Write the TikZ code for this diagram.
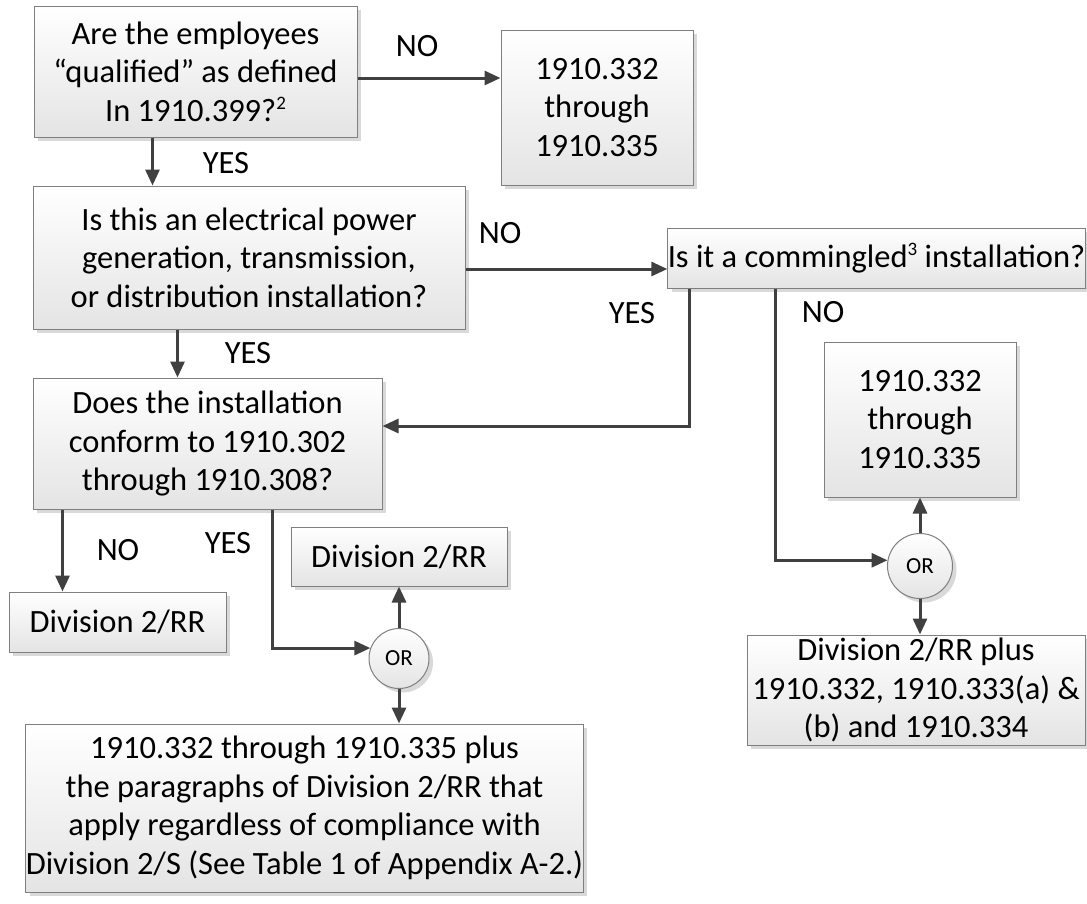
\documentclass[tikz,border=0pt]{standalone}
\usepackage{fontspec}
\setmainfont{Carlito}
\usetikzlibrary{arrows.meta,shadows}

\definecolor{linegray}{HTML}{404040}
\definecolor{boxedge}{HTML}{7F7F7F}
\definecolor{boxshade}{HTML}{E4E4E4}
\definecolor{shadowgray}{HTML}{D9D9D9}

\newcommand{\fnmark}[1]{\raisebox{0.75ex}{\fontsize{19}{19}\selectfont #1}}

\begin{document}
\begin{tikzpicture}[
      x=1pt, y=-1pt,
      every text node part/.style={align=center},
      box/.style={
        rectangle,
        draw=boxedge,
        line width=1pt,
        top color=white,
        bottom color=boxshade,
        inner sep=0pt,
        font=\fontsize{32.5}{38.5}\selectfont,
        drop shadow={shadow xshift=4pt, shadow yshift=-4pt,
          fill=shadowgray, opacity=1}
      },
      orgate/.style={
        box,
        circle,
        minimum size=60pt,
        font=\fontsize{23}{26}\selectfont
      },
      answer/.style={
        inner sep=0pt,
        font=\fontsize{32.5}{36}\selectfont
      },
      flow/.style={
        draw=linegray,
        line width=3pt,
        -{Triangle[length=16pt,width=14pt]}
      }
    ]
    \useasboundingbox (0,0) rectangle (1087,903);

    % questions
    \node[box, minimum width=323pt, minimum height=131pt]
      (qualified) at (195.5,71.5)
      {Are the employees\\
      “qualified” as defined\\
      In 1910.399?\fnmark{2}};

    \node[box, minimum width=432pt, minimum height=143pt]
      (power) at (249,257.5)
      {Is this an electrical power\\
      generation, transmission,\\
      or distribution installation?};

    \node[box, minimum width=417pt, minimum height=60pt]
      (commingled) at (876.5,258)
      {Is it a commingled\fnmark{3} installation?};

    \node[box, minimum width=349pt, minimum height=131pt]
      (conform) at (207.5,443.5)
      {Does the installation\\
      conform to 1910.302\\
      through 1910.308?};

    % outcomes
    \node[box, minimum width=192pt, minimum height=155pt]
      (throughA) at (597,107.5)
      {1910.332\\
      through\\
      1910.335};

    \node[box, minimum width=192pt, minimum height=155pt]
      (throughB) at (920,419.5)
      {1910.332\\
      through\\
      1910.335};

    \node[box, minimum width=217pt, minimum height=60pt]
      (divNo) at (117.5,622)
      {Division 2/RR};

    \node[box, minimum width=216pt, minimum height=59pt]
      (divYes) at (399,556.5)
      {Division 2/RR};

    \node[box, minimum width=555pt, minimum height=168pt]
      (regardless) at (304.5,808)
      {1910.332 through 1910.335 plus\\
      the paragraphs of Division 2/RR that\\
      apply regardless of compliance with\\
      Division 2/S (See Table 1 of Appendix A-2.)};

    \node[box, minimum width=338pt, minimum height=110pt]
      (divPlus) at (916,690)
      {Division 2/RR plus\\
      1910.332, 1910.333(a) \&\\
      (b) and 1910.334};

    \node[orgate] (orLeft) at (399,658.5) {OR};
    \node[orgate, minimum size=65pt] (orRight) at (920,566) {OR};

    % answers
    \node[answer] (noQualified) at (417,46) {NO};
    \node[answer] (yesQualified) at (226,163) {YES};
    \node[answer] (noPower) at (500,233) {NO};
    \node[answer] (yesPower) at (248,353) {YES};
    \node[answer] (yesCommingled) at (632,313) {YES};
    \node[answer] (noCommingled) at (823,312) {NO};
    \node[answer] (noConform) at (118,550) {NO};
    \node[answer] (yesConform) at (228,543) {YES};

    % connectors
    \draw[flow] ([yshift=-6.5pt]qualified.east)
      -- ([yshift=-6.5pt]qualified.east -| throughA.west);
    \draw[flow] ([xshift=119pt]qualified.south west)
      -- ([xshift=119pt]qualified.south west |- power.north);
    \draw[flow] ([yshift=-11.5pt]power.east)
      -- ([yshift=-11.5pt]power.east -| commingled.west);
    \draw[flow] ([xshift=145pt]power.south west)
      -- ([xshift=145pt]power.south west |- conform.north);
    \draw[flow] ([xshift=22pt]commingled.south west)
      |- ([yshift=17.5pt]conform.east);
    \draw[flow] ([xshift=108pt]commingled.south west)
      |- (orRight.170);
    \draw[flow] (orRight.north) -- (throughB.south);
    \draw[flow] (orRight.south) -- (orRight.south |- divPlus.north);
    \draw[flow] ([xshift=30pt]conform.south west)
      -- ([xshift=30pt]conform.south west |- divNo.north);
    \draw[flow] ([xshift=240pt]conform.south west)
      |- (orLeft.160);
    \draw[flow] (orLeft.north) -- (divYes.south);
    \draw[flow] (orLeft.south) -- (orLeft.south |- regardless.north);
  \end{tikzpicture}
\end{document}
